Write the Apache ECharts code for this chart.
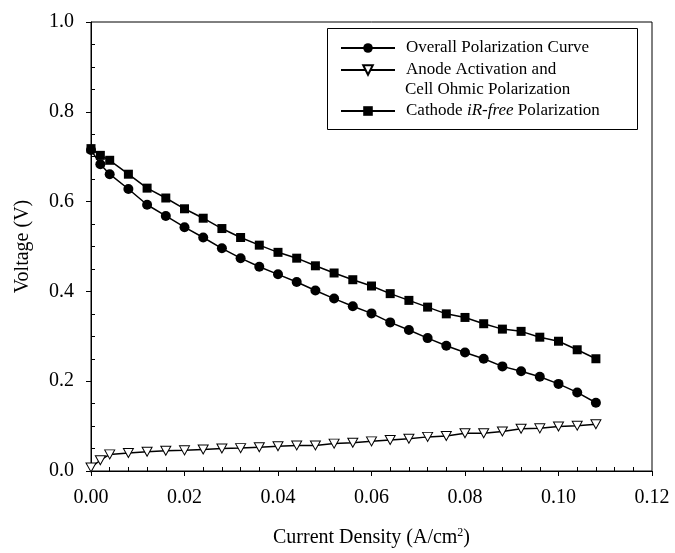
<!DOCTYPE html>
<html>
<head>
<meta charset="utf-8">
<script src="https://cdn.jsdelivr.net/npm/echarts@6/dist/echarts.min.js"></script>
<style>
html,body{margin:0;padding:0;background:#fff;}
#chart{width:675px;height:553px;}
</style>
</head>
<body>
<div id="chart"></div>
<script>
// Current density (A/cm2)
var currentDensity = [0, 0.002, 0.004, 0.008, 0.012, 0.016, 0.020, 0.024, 0.028, 0.032, 0.036, 0.040, 0.044, 0.048, 0.052, 0.056, 0.060, 0.064, 0.068, 0.072, 0.076, 0.080, 0.084, 0.088, 0.092, 0.096, 0.100, 0.104, 0.108];
// Overall polarization curve (V)
var overallV = [0.715, 0.683, 0.661, 0.628, 0.593, 0.568, 0.543, 0.520, 0.496, 0.474, 0.455, 0.438, 0.421, 0.402, 0.384, 0.367, 0.351, 0.331, 0.314, 0.296, 0.279, 0.264, 0.250, 0.233, 0.222, 0.210, 0.194, 0.175, 0.152];
// Anode activation and cell ohmic polarization (V)
var anodeV = [0.008, 0.024, 0.037, 0.040, 0.043, 0.045, 0.046, 0.048, 0.050, 0.051, 0.053, 0.055, 0.057, 0.057, 0.061, 0.063, 0.066, 0.069, 0.072, 0.076, 0.078, 0.084, 0.084, 0.088, 0.094, 0.095, 0.099, 0.101, 0.104];
// Cathode iR-free polarization (V)
var cathodeV = [0.718, 0.703, 0.692, 0.661, 0.630, 0.608, 0.584, 0.563, 0.540, 0.520, 0.503, 0.487, 0.474, 0.457, 0.441, 0.426, 0.412, 0.395, 0.380, 0.365, 0.350, 0.342, 0.328, 0.316, 0.311, 0.298, 0.289, 0.270, 0.250];

var seriesNames = ['Overall Polarization Curve', 'Anode Activation and Cell Ohmic Polarization', 'Cathode iR-free Polarization'];

function pairs(xs, ys) { return xs.map(function (x, i) { return [x, ys[i]]; }); }

var FONT = 'Liberation Serif';
var chart = echarts.init(document.getElementById('chart'), null, {renderer: 'canvas'});

var axisCommonX = {
  type: 'value', min: 0, max: 0.12, interval: 0.02, position: 'bottom'
};
var axisCommonY = {
  type: 'value', min: 0, max: 1.0, interval: 0.2, position: 'left'
};

var option = {
  backgroundColor: '#fff',
  animation: false,
  grid: {left: 91, right: 23, top: 22, bottom: 77, show: true, borderColor: '#000', borderWidth: 1, backgroundColor: 'transparent'},
  xAxis: [
    Object.assign({}, axisCommonX, {
      name: 'Current Density (A/cm{sup|2})',
      nameLocation: 'middle', nameGap: 56,
      nameTextStyle: {fontFamily: FONT, fontSize: 20, color: '#000',
        rich: {sup: {fontFamily: FONT, fontSize: 12, color: '#000', verticalAlign: 'top', padding: [0, 0, 10, 0]}}},
      axisLine: {show: true, lineStyle: {color: '#000', width: 1}},
      axisTick: {show: true, inside: false, length: 5, lineStyle: {color: '#000'}},
      minorTick: {show: false},
      axisLabel: {fontFamily: FONT, fontSize: 20, color: '#000', margin: 17,
        formatter: function (v) { return v.toFixed(2); }},
      splitLine: {show: false}
    }),
    Object.assign({}, axisCommonX, {
      axisLine: {show: false},
      axisTick: {show: false, inside: true, length: 4},
      minorTick: {show: true, splitNumber: 5, length: 4, lineStyle: {color: '#000', width: 1}},
      axisLabel: {show: false},
      splitLine: {show: false}
    })
  ],
  yAxis: [
    Object.assign({}, axisCommonY, {
      name: 'Voltage (V)',
      nameLocation: 'middle', nameGap: 58, nameRotate: 90,
      nameTextStyle: {fontFamily: FONT, fontSize: 20, color: '#000'},
      axisLine: {show: true, lineStyle: {color: '#000', width: 1}},
      axisTick: {show: true, inside: false, length: 5, lineStyle: {color: '#000'}},
      minorTick: {show: false},
      axisLabel: {fontFamily: FONT, fontSize: 20, color: '#000', margin: 17,
        formatter: function (v) { return v.toFixed(1); }},
      splitLine: {show: false}
    }),
    Object.assign({}, axisCommonY, {
      axisLine: {show: false},
      axisTick: {show: false, inside: true, length: 4},
      minorTick: {show: true, splitNumber: 4, length: 4, lineStyle: {color: '#000', width: 1}},
      axisLabel: {show: false},
      splitLine: {show: false}
    })
  ],
  legend: [
    {
      data: [seriesNames[0], seriesNames[1]],
      orient: 'vertical', left: 340, top: 38.5, padding: 0,
      itemWidth: 54, itemHeight: 12, itemGap: 3,
      textStyle: {fontFamily: FONT, fontSize: 17, color: '#000', lineHeight: 19, padding: [0, 0, 0, 6]},
      formatter: function (name) {
        return name === seriesNames[1] ? 'Anode Activation and' : name;
      },
      selectedMode: false
    },
    {
      data: [seriesNames[2]],
      orient: 'vertical', left: 340, top: 101.5, padding: 0,
      itemWidth: 54, itemHeight: 12,
      textStyle: {fontFamily: FONT, fontSize: 17, color: '#000', lineHeight: 19, padding: [0, 0, 0, 6],
        rich: {n: {fontFamily: FONT, fontSize: 17, color: '#000'},
               i: {fontFamily: FONT, fontSize: 17, color: '#000', fontStyle: 'italic'}}},
      formatter: function () { return '{n|Cathode }{i|iR-free}{n| Polarization}'; },
      selectedMode: false
    }
  ],
  graphic: [
    {type: 'rect', left: 327, top: 28, shape: {width: 310, height: 101},
      style: {fill: '#fff', stroke: '#000', lineWidth: 1}, z: -1, silent: true},
    {type: 'text', left: 405, top: 81,
      style: {text: 'Cell Ohmic Polarization', font: '17px "Liberation Serif"', fill: '#000'}, silent: true}
  ],
  series: [
    {
      name: seriesNames[0], type: 'line', xAxisIndex: 0, yAxisIndex: 0,
      data: pairs(currentDensity, overallV),
      symbol: 'circle', symbolSize: 10,
      lineStyle: {color: '#000', width: 1.5},
      itemStyle: {color: '#000'},
      z: 3
    },
    {
      name: seriesNames[1], type: 'line', xAxisIndex: 0, yAxisIndex: 0,
      data: pairs(currentDensity, anodeV),
      symbol: 'triangle', symbolSize: [10, 9], symbolRotate: 180,
      lineStyle: {color: '#000', width: 1.5},
      itemStyle: {color: '#fff', borderColor: '#000', borderWidth: 1},
      z: 3
    },
    {
      name: seriesNames[2], type: 'line', xAxisIndex: 0, yAxisIndex: 0,
      data: pairs(currentDensity, cathodeV),
      symbol: 'rect', symbolSize: 9,
      lineStyle: {color: '#000', width: 1.5},
      itemStyle: {color: '#000'},
      z: 4
    }
  ]
};
chart.setOption(option);
</script>
</body>
</html>
